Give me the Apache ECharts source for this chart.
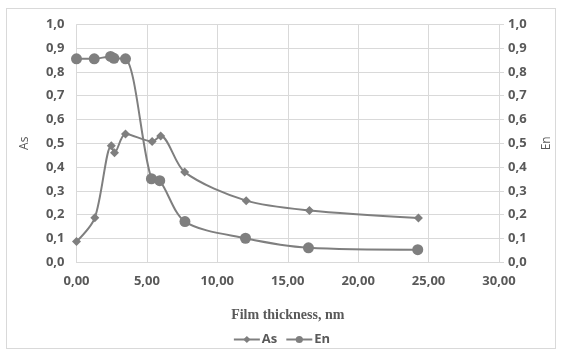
<!DOCTYPE html>
<html>
<head>
<meta charset="utf-8">
<script src="https://cdn.jsdelivr.net/npm/echarts@6/dist/echarts.min.js"></script>
<style>
  html, body { margin: 0; padding: 0; background: #fff; }
  #frame { position: absolute; left: 6px; top: 8px; width: 550px; height: 341px; border: 1px solid #d9d9d9; box-sizing: border-box; }
  #chart { position: absolute; left: 0; top: 0; width: 563px; height: 356px; }
</style>
</head>
<body>
<div id="frame"></div>
<div id="chart"></div>
<script>
// Film thickness (nm) and measured parameters
const thicknessAs = [0, 1.3, 2.47, 2.7, 3.48, 5.37, 5.98, 7.68, 12.05, 16.54, 24.28];
const valuesAs    = [0.087, 0.187, 0.49, 0.46, 0.539, 0.508, 0.531, 0.379, 0.259, 0.218, 0.186];
const thicknessEn = [0, 1.26, 2.42, 2.66, 3.48, 5.32, 5.91, 7.7, 12.0, 16.47, 24.23];
const valuesEn    = [0.855, 0.855, 0.865, 0.857, 0.855, 0.351, 0.343, 0.171, 0.101, 0.061, 0.053];

const xTitle = 'Film thickness, nm';
const seriesNames = ['As', 'En'];

const gray = '#7f7f7f';
const labelColor = '#595959';
const gridColor = '#d9d9d9';

const pairs = (xs, ys) => xs.map((x, i) => [x, ys[i]]);
const comma = (v, d) => v.toFixed(d).replace('.', ',');

const chart = echarts.init(document.getElementById('chart'), null, { renderer: 'canvas' });
chart.setOption({
  animation: false,
  textStyle: { fontFamily: 'Open Sans' },
  grid: { left: 76.5, right: 64, top: 24.3, bottom: 93.7 },
  legend: {
    bottom: 5,
    left: 'center',
    itemWidth: 26,
    itemHeight: 9,
    itemGap: 8,
    textStyle: { color: labelColor, fontSize: 13, fontWeight: 'bold', fontFamily: 'Open Sans', padding: [0, 0, 0, -3] },
    data: seriesNames
  },
  xAxis: {
    type: 'value',
    min: 0, max: 30, interval: 5,
    name: xTitle,
    nameLocation: 'middle',
    nameGap: 46,
    nameTextStyle: { fontFamily: 'Liberation Serif', fontWeight: 'bold', fontSize: 14, color: labelColor },
    axisLine: { show: true, lineStyle: { color: gridColor, width: 1 } },
    axisTick: { show: false },
    axisLabel: { color: labelColor, fontSize: 13, fontWeight: 'bold', margin: 12, formatter: v => comma(v, 2) },
    splitLine: { show: true, lineStyle: { color: gridColor, width: 1 } }
  },
  yAxis: [
    {
      type: 'value', min: 0, max: 1, interval: 0.1,
      name: seriesNames[0],
      nameLocation: 'middle', nameGap: 46, nameRotate: 90,
      nameTextStyle: { color: labelColor, fontSize: 12 },
      axisLine: { show: false },
      axisTick: { show: false },
      axisLabel: { color: labelColor, fontSize: 13, fontWeight: 'bold', margin: 12, formatter: v => comma(v, 1) },
      splitLine: { show: true, lineStyle: { color: gridColor, width: 1 } }
    },
    {
      type: 'value', min: 0, max: 1, interval: 0.1,
      position: 'right',
      name: seriesNames[1],
      nameLocation: 'middle', nameGap: 42, nameRotate: 90,
      nameTextStyle: { color: labelColor, fontSize: 12 },
      axisLine: { show: true, lineStyle: { color: gridColor, width: 1 } },
      axisTick: { show: true, inside: false, length: 5, lineStyle: { color: gridColor } },
      axisLabel: { color: labelColor, fontSize: 13, fontWeight: 'bold', margin: 9, formatter: v => comma(v, 1) },
      splitLine: { show: false }
    }
  ],
  series: [
    {
      name: seriesNames[0],
      type: 'line',
      yAxisIndex: 0,
      data: pairs(thicknessAs, valuesAs),
      smooth: 0.3,
      symbol: 'diamond',
      symbolSize: 9,
      lineStyle: { color: gray, width: 2 },
      itemStyle: { color: gray }
    },
    {
      name: seriesNames[1],
      type: 'line',
      yAxisIndex: 1,
      data: pairs(thicknessEn, valuesEn),
      smooth: 0.3,
      symbol: 'circle',
      symbolSize: 11,
      lineStyle: { color: gray, width: 2 },
      itemStyle: { color: gray }
    }
  ]
});
</script>
</body>
</html>
